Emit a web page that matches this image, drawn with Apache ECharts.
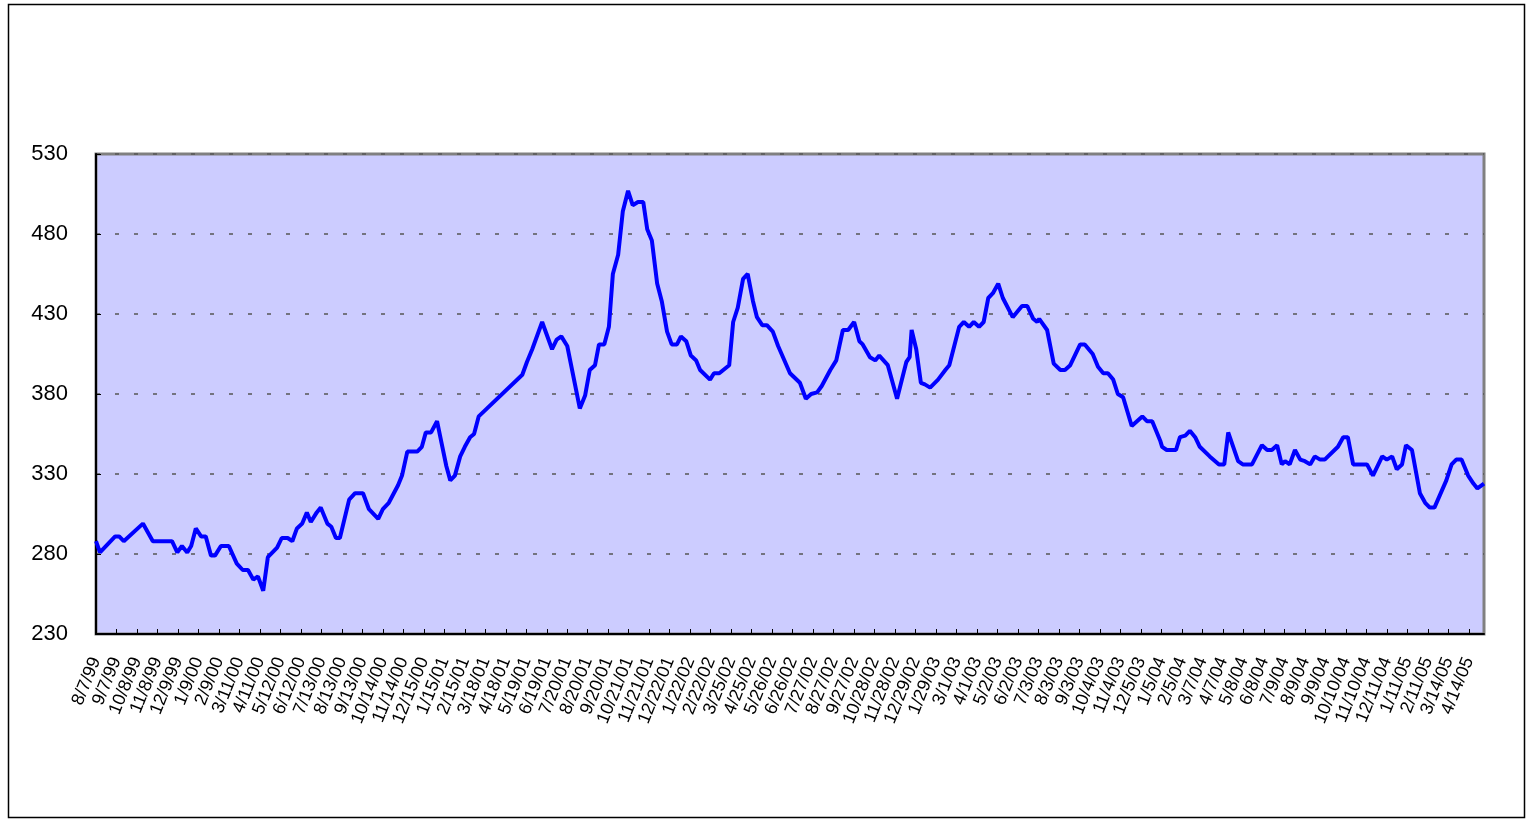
<!DOCTYPE html>
<html>
<head>
<meta charset="utf-8">
<script src="https://cdn.jsdelivr.net/npm/echarts@6/dist/echarts.min.js"></script>
<style>
  html, body { margin: 0; padding: 0; background: #fff; }
  #chart { width: 1534px; height: 822px; }
</style>
</head>
<body>
<div id="chart"></div>
<script>
// x axis is days counted from 8/7/99, a label every 31 days
const START = Date.UTC(1999, 7, 7)
const AXIS_DAYS = 2100
const LABEL_STEP = 31

const dayOffset = [
  0, 6, 29, 35, 42, 71, 86, 115, 123, 130, 138, 144, 151, 159, 166, 174, 180, 189, 201, 213,
  222, 230, 238, 245, 253, 260, 274, 281, 290, 297, 304, 312, 319, 325, 334, 340, 350, 356, 363, 369,
  383, 392, 404, 413, 427, 434, 443, 457, 463, 471, 486, 493, 499, 507, 516, 523, 530, 536, 543, 551,
  558, 566, 572, 579, 645, 652, 660, 675, 690, 697, 704, 713, 732, 740, 747, 755, 761, 769, 776, 782,
  790, 797, 805, 812, 820, 828, 834, 841, 849, 856, 864, 871, 879, 885, 893, 900, 908, 914, 929, 935,
  943, 958, 964, 971, 979, 986, 994, 1000, 1008, 1015, 1024, 1032, 1050, 1065, 1074, 1082, 1091, 1098, 1111, 1120,
  1130, 1138, 1147, 1155, 1160, 1171, 1179, 1185, 1198, 1212, 1226, 1231, 1234, 1241, 1248, 1254, 1262, 1274, 1285, 1291,
  1306, 1313, 1321, 1328, 1336, 1343, 1350, 1357, 1365, 1372, 1387, 1401, 1409, 1418, 1424, 1427, 1439, 1449, 1459, 1466,
  1474, 1489, 1496, 1508, 1516, 1524, 1531, 1539, 1546, 1554, 1567, 1583, 1590, 1598, 1610, 1613, 1620, 1634, 1640, 1648,
  1655, 1663, 1670, 1685, 1699, 1707, 1713, 1728, 1735, 1749, 1764, 1772, 1779, 1787, 1794, 1799, 1806, 1814, 1822, 1829,
  1837, 1844, 1852, 1859, 1879, 1887, 1894, 1902, 1923, 1932, 1946, 1953, 1961, 1968, 1976, 1982, 1991, 2003, 2011, 2018,
  2025, 2043, 2051, 2058, 2066, 2076, 2084, 2090, 2100,
]

const price = [
  288, 281, 291, 291, 288, 299, 288, 288, 281, 285, 281, 285, 296, 291, 291, 279, 279, 285, 285, 274,
  270, 270, 264, 266, 257, 278, 284, 290, 290, 288, 296, 299, 306, 300, 306, 309, 299, 297, 290, 290,
  314, 318, 318, 308, 302, 308, 312, 323, 329, 344, 344, 347, 356, 356, 363, 349, 335, 326, 329, 341,
  347, 353, 355, 366, 392, 400, 408, 425, 408, 414, 416, 410, 371, 379, 395, 398, 411, 411, 422, 455,
  467, 494, 507, 498, 500, 500, 483, 476, 449, 438, 419, 411, 411, 416, 413, 404, 401, 395, 389, 393,
  393, 398, 425, 434, 452, 455, 438, 428, 423, 423, 419, 410, 393, 387, 377, 380, 381, 385, 395, 401,
  420, 420, 425, 413, 411, 403, 401, 404, 398, 377, 400, 403, 420, 408, 387, 386, 384, 389, 395, 398,
  422, 425, 422, 425, 422, 425, 440, 443, 449, 440, 428, 435, 435, 427, 425, 427, 420, 399, 395, 395,
  398, 411, 411, 405, 397, 393, 393, 389, 380, 378, 360, 366, 363, 363, 351, 347, 345, 345, 353, 354,
  357, 353, 347, 341, 336, 336, 356, 338, 336, 336, 348, 345, 345, 348, 336, 338, 336, 345, 339, 338,
  336, 341, 339, 339, 347, 353, 353, 336, 336, 329, 341, 339, 341, 333, 336, 348, 345, 318, 312, 309,
  309, 326, 336, 339, 339, 329, 324, 321, 324,
]

const yTicks = { min: 230, max: 530, step: 50 }

function dateLabel(v) {
  const d = new Date(START + v * 86400000)
  const yy = String(d.getUTCFullYear() % 100).padStart(2, '0')
  return `${d.getUTCMonth() + 1}/${d.getUTCDate()}/${yy}`
}

const chart = echarts.init(document.getElementById('chart'))

chart.setOption({
  animation: false,
  textStyle: { fontFamily: 'Liberation Sans, Arial, sans-serif' },
  graphic: [
    {
      type: 'rect',
      shape: { x: 8.5, y: 4.5, width: 1516, height: 813 },
      style: { fill: 'none', stroke: '#000', lineWidth: 1.5 },
      z: -1,
    },
  ],
  grid: {
    left: 96,
    right: 50,
    top: 154,
    bottom: 188,
    show: true,
    backgroundColor: '#CCCCFF',
    borderColor: '#808080',
    borderWidth: 3,
  },
  xAxis: {
    type: 'value',
    min: 0,
    max: AXIS_DAYS,
    interval: LABEL_STEP,
    axisLine: { lineStyle: { color: '#000', width: 2 } },
    axisTick: { inside: true, length: 5, lineStyle: { color: '#000', width: 1 } },
    splitLine: { show: false },
    axisLabel: {
      rotate: 68,
      margin: 24,
      fontSize: 18,
      color: '#000',
      showMaxLabel: false,
      formatter: dateLabel,
    },
  },
  yAxis: {
    type: 'value',
    min: yTicks.min,
    max: yTicks.max,
    interval: yTicks.step,
    axisLine: { show: true, lineStyle: { color: '#000', width: 2 } },
    axisTick: { show: true, inside: true, length: 5, lineStyle: { color: '#000' } },
    axisLabel: { fontSize: 22, color: '#000', margin: 28 },
    splitLine: {
      show: true,
      lineStyle: { color: '#555', width: 1.5, type: [4, 15] },
    },
  },
  series: [
    {
      type: 'line',
      data: dayOffset.map((d, i) => [d, price[i]]),
      showSymbol: false,
      lineStyle: { color: '#0000FF', width: 4 },
      itemStyle: { color: '#0000FF' },
    },
  ],
})
</script>
</body>
</html>
